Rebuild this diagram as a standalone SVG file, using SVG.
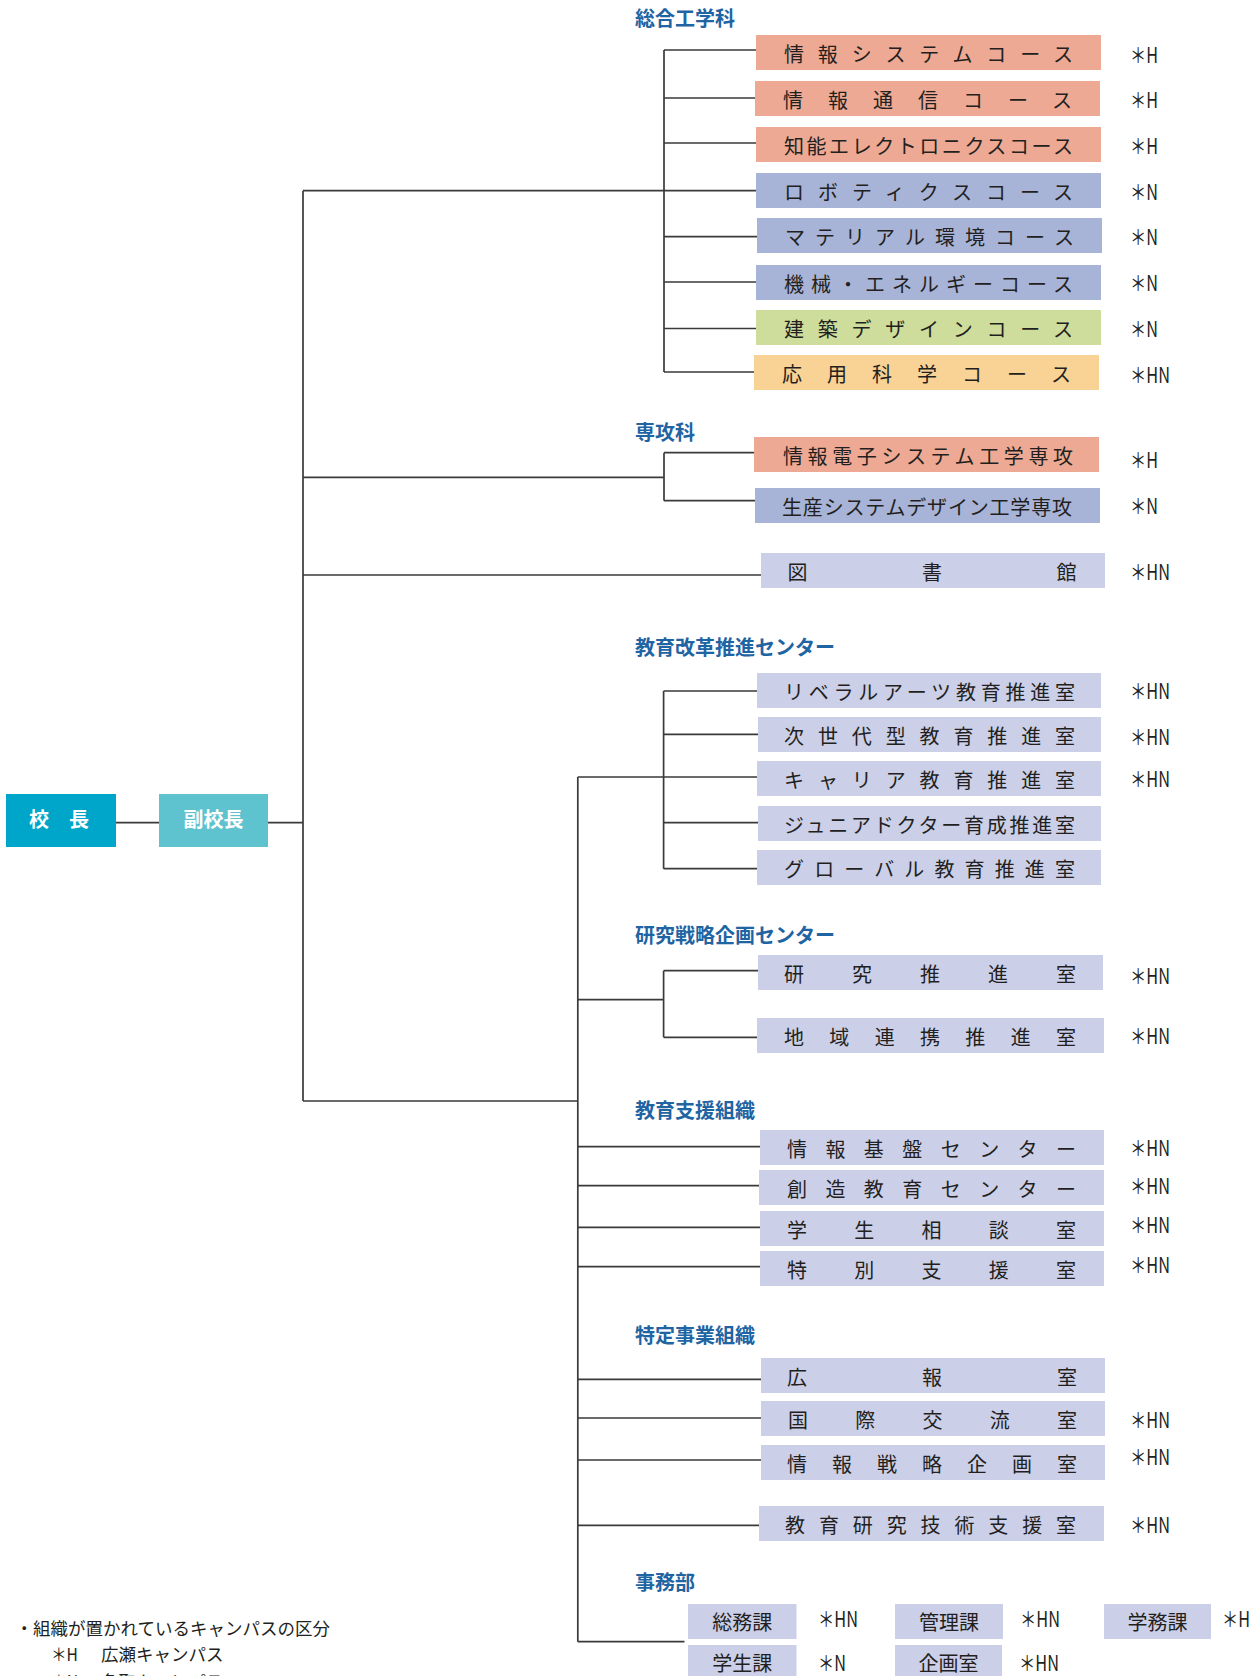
<svg xmlns="http://www.w3.org/2000/svg" width="1257" height="1676" viewBox="0 0 1257 1676">
<style>
.bg{fill:#ffffff}
.sal{fill:#EDA993}.blu{fill:#A8B4D7}.grn{fill:#CEDD9B}.pch{fill:#F9D295}.lav{fill:#CBCFE8}
.t{font-family:"Noto Sans CJK JP","Noto Sans",sans-serif;font-size:20px;fill:#231f20}
.tc{font-family:"Noto Sans CJK JP","Noto Sans",sans-serif;font-size:20px;fill:#231f20;text-anchor:middle}
.lab{font-family:"Noto Sans CJK JP","Noto Sans",sans-serif;font-size:21px;fill:#231f20}
.ttl{font-family:"Noto Sans CJK JP","Noto Sans",sans-serif;font-size:20px;font-weight:700;fill:#1F64A3}
.wh{font-family:"Noto Sans CJK JP","Noto Sans",sans-serif;font-size:20px;font-weight:700;fill:#ffffff;text-anchor:middle}
.leg{font-family:"Noto Sans CJK JP","Noto Sans",sans-serif;font-size:17.5px;fill:#231f20}
.conn path{fill:none;stroke:#3a3a3a;stroke-width:1.7}
</style>
<rect class="bg" x="0" y="0" width="1257" height="1676"/>

<g id="connectors" class="conn">
<path d="M116 822.7H159M268 822.7H303"/>
<path d="M303 190.7V1101M303 190.7H756M303 477.3H664M303 575H761M303 1101H577.8"/>
<path d="M664 50V372M664 50H756M664 98H755M664 143H756M664 236.7H757M664 282H756M664 328.5H756M664 372H754"/>
<path d="M664 452.7V500.7M664 452.7H754M664 500.7H755"/>
<path d="M577.8 777V1641.7M577.8 777H757"/>
<path d="M663.6 691V868.7M663.6 691H757M663.6 734.3H758M663.6 822.7H758M663.6 868.7H757"/>
<path d="M577.8 999.7H663.6M663.6 970.7V1037.3M663.6 970.7H758M663.6 1037.3H757"/>
<path d="M577.8 1146.7H760M577.8 1185.7H759M577.8 1227.3H760M577.8 1266.7H760"/>
<path d="M577.8 1379.3H761M577.8 1418H761M577.8 1460H761M577.8 1525.3H759"/>
<path d="M577.8 1641.7H684.5"/>
</g>

<g id="kocho"><rect x="6" y="794" width="110" height="53" fill="#00A6C9"/><text class="wh" x="59" y="827">校　長</text></g>
<g id="fukukocho"><rect x="159" y="794" width="109" height="53" fill="#5FC2CF"/><text class="wh" x="213.5" y="827">副校長</text></g>

<g id="title-sogo"><text class="ttl" x="635" y="26">総合工学科</text></g>
<g id="n-c1"><rect class="sal" x="756" y="35" width="345" height="35"/><text class="t" x="784" y="61.5" textLength="289" lengthAdjust="spacing">情報システムコース</text><text class="lab" x="1130" y="62.5" textLength="28" lengthAdjust="spacingAndGlyphs">＊H</text></g>
<g id="n-c2"><rect class="sal" x="755" y="81" width="345" height="35"/><text class="t" x="783" y="107.5" textLength="289" lengthAdjust="spacing">情報通信コース</text><text class="lab" x="1130" y="108" textLength="28" lengthAdjust="spacingAndGlyphs">＊H</text></g>
<g id="n-c3"><rect class="sal" x="756" y="127" width="345" height="35"/><text class="t" x="784" y="153.5" textLength="289" lengthAdjust="spacing">知能エレクトロニクスコース</text><text class="lab" x="1130" y="154" textLength="28" lengthAdjust="spacingAndGlyphs">＊H</text></g>
<g id="n-c4"><rect class="blu" x="756" y="173" width="345" height="35"/><text class="t" x="784" y="199.5" textLength="289" lengthAdjust="spacing">ロボティクスコース</text><text class="lab" x="1130" y="200" textLength="28" lengthAdjust="spacingAndGlyphs">＊N</text></g>
<g id="n-c5"><rect class="blu" x="757" y="218" width="345" height="35"/><text class="t" x="785" y="244.5" textLength="289" lengthAdjust="spacing">マテリアル環境コース</text><text class="lab" x="1130" y="245" textLength="28" lengthAdjust="spacingAndGlyphs">＊N</text></g>
<g id="n-c6"><rect class="blu" x="756" y="265" width="345" height="35"/><text class="t" x="784" y="291.5" textLength="289" lengthAdjust="spacing">機械・エネルギーコース</text><text class="lab" x="1130" y="291" textLength="28" lengthAdjust="spacingAndGlyphs">＊N</text></g>
<g id="n-c7"><rect class="grn" x="756" y="310" width="345" height="35"/><text class="t" x="784" y="336.5" textLength="289" lengthAdjust="spacing">建築デザインコース</text><text class="lab" x="1130" y="337" textLength="28" lengthAdjust="spacingAndGlyphs">＊N</text></g>
<g id="n-c8"><rect class="pch" x="754" y="355" width="345" height="35"/><text class="t" x="782" y="381.5" textLength="289" lengthAdjust="spacing">応用科学コース</text><text class="lab" x="1130" y="383" textLength="40" lengthAdjust="spacingAndGlyphs">＊HN</text></g>

<g id="title-senko"><text class="ttl" x="635" y="439.5">専攻科</text></g>
<g id="n-s1"><rect class="sal" x="754" y="437" width="345" height="35"/><text class="t" x="783" y="463.5" textLength="290" lengthAdjust="spacing">情報電子システム工学専攻</text><text class="lab" x="1130" y="467.5" textLength="28" lengthAdjust="spacingAndGlyphs">＊H</text></g>
<g id="n-s2"><rect class="blu" x="755" y="488" width="345" height="35"/><text class="t" x="782" y="514.5" textLength="290" lengthAdjust="spacing">生産システムデザイン工学専攻</text><text class="lab" x="1130" y="513.5" textLength="28" lengthAdjust="spacingAndGlyphs">＊N</text></g>

<g id="n-lib"><rect class="lav" x="761" y="553" width="344" height="35"/><text class="t" x="787.5" y="579.5" textLength="289" lengthAdjust="spacing">図書館</text><text class="lab" x="1130" y="580" textLength="40" lengthAdjust="spacingAndGlyphs">＊HN</text></g>

<g id="title-kaikaku"><text class="ttl" x="635" y="655">教育改革推進センター</text></g>
<g id="n-k1"><rect class="lav" x="757" y="673" width="344" height="35"/><text class="t" x="784" y="699.5" textLength="291" lengthAdjust="spacing">リベラルアーツ教育推進室</text><text class="lab" x="1130" y="699" textLength="40" lengthAdjust="spacingAndGlyphs">＊HN</text></g>
<g id="n-k2"><rect class="lav" x="758" y="717" width="343" height="35"/><text class="t" x="784" y="743.5" textLength="291" lengthAdjust="spacing">次世代型教育推進室</text><text class="lab" x="1130" y="744.5" textLength="40" lengthAdjust="spacingAndGlyphs">＊HN</text></g>
<g id="n-k3"><rect class="lav" x="757" y="761" width="344" height="35"/><text class="t" x="784" y="787.5" textLength="291" lengthAdjust="spacing">キャリア教育推進室</text><text class="lab" x="1130" y="786.5" textLength="40" lengthAdjust="spacingAndGlyphs">＊HN</text></g>
<g id="n-k4"><rect class="lav" x="758" y="806" width="343" height="35"/><text class="t" x="784" y="832.5" textLength="291" lengthAdjust="spacing">ジュニアドクター育成推進室</text></g>
<g id="n-k5"><rect class="lav" x="757" y="850" width="344" height="35"/><text class="t" x="784" y="876.5" textLength="291" lengthAdjust="spacing">グローバル教育推進室</text></g>

<g id="title-kenkyu"><text class="ttl" x="635" y="942.5">研究戦略企画センター</text></g>
<g id="n-r1"><rect class="lav" x="758" y="955" width="345" height="35"/><text class="t" x="784" y="981.5" textLength="292" lengthAdjust="spacing">研究推進室</text><text class="lab" x="1130" y="984" textLength="40" lengthAdjust="spacingAndGlyphs">＊HN</text></g>
<g id="n-r2"><rect class="lav" x="757" y="1018" width="347" height="35"/><text class="t" x="784" y="1044.5" textLength="292" lengthAdjust="spacing">地域連携推進室</text><text class="lab" x="1130" y="1044" textLength="40" lengthAdjust="spacingAndGlyphs">＊HN</text></g>

<g id="title-shien"><text class="ttl" x="635" y="1117.5">教育支援組織</text></g>
<g id="n-e1"><rect class="lav" x="760" y="1130" width="344" height="35"/><text class="t" x="787" y="1156.5" textLength="289" lengthAdjust="spacing">情報基盤センター</text><text class="lab" x="1130" y="1155.5" textLength="40" lengthAdjust="spacingAndGlyphs">＊HN</text></g>
<g id="n-e2"><rect class="lav" x="759" y="1170" width="345" height="35"/><text class="t" x="787" y="1196.5" textLength="289" lengthAdjust="spacing">創造教育センター</text><text class="lab" x="1130" y="1194" textLength="40" lengthAdjust="spacingAndGlyphs">＊HN</text></g>
<g id="n-e3"><rect class="lav" x="760" y="1211" width="344" height="35"/><text class="t" x="787" y="1237.5" textLength="289" lengthAdjust="spacing">学生相談室</text><text class="lab" x="1130" y="1233" textLength="40" lengthAdjust="spacingAndGlyphs">＊HN</text></g>
<g id="n-e4"><rect class="lav" x="760" y="1251" width="344" height="35"/><text class="t" x="787" y="1277.5" textLength="289" lengthAdjust="spacing">特別支援室</text><text class="lab" x="1130" y="1273" textLength="40" lengthAdjust="spacingAndGlyphs">＊HN</text></g>

<g id="title-tokutei"><text class="ttl" x="635" y="1342.5">特定事業組織</text></g>
<g id="n-p1"><rect class="lav" x="761" y="1358" width="344" height="35"/><text class="t" x="787" y="1384.5" textLength="290" lengthAdjust="spacing">広報室</text></g>
<g id="n-p2"><rect class="lav" x="761" y="1401" width="344" height="35"/><text class="t" x="788" y="1427.5" textLength="289" lengthAdjust="spacing">国際交流室</text><text class="lab" x="1130" y="1427.5" textLength="40" lengthAdjust="spacingAndGlyphs">＊HN</text></g>
<g id="n-p3"><rect class="lav" x="761" y="1445" width="344" height="35"/><text class="t" x="787" y="1471.5" textLength="290" lengthAdjust="spacing">情報戦略企画室</text><text class="lab" x="1130" y="1464.5" textLength="40" lengthAdjust="spacingAndGlyphs">＊HN</text></g>
<g id="n-p4"><rect class="lav" x="759" y="1506" width="345" height="35"/><text class="t" x="785" y="1532.5" textLength="291" lengthAdjust="spacing">教育研究技術支援室</text><text class="lab" x="1130" y="1532.5" textLength="40" lengthAdjust="spacingAndGlyphs">＊HN</text></g>

<g id="title-jimu"><text class="ttl" x="635" y="1590">事務部</text></g>
<g id="n-j1"><rect class="lav" x="688" y="1604" width="108.5" height="35"/><text class="tc" x="742.3" y="1630">総務課</text><text class="lab" x="818" y="1626.5" textLength="40" lengthAdjust="spacingAndGlyphs">＊HN</text></g>
<g id="n-j2"><rect class="lav" x="895" y="1604" width="108" height="35"/><text class="tc" x="949" y="1630">管理課</text><text class="lab" x="1020" y="1626.5" textLength="40" lengthAdjust="spacingAndGlyphs">＊HN</text></g>
<g id="n-j3"><rect class="lav" x="1104" y="1604" width="107" height="35"/><text class="tc" x="1157.5" y="1630">学務課</text><text class="lab" x="1222" y="1626.5" textLength="28" lengthAdjust="spacingAndGlyphs">＊H</text></g>
<g id="n-j4"><rect class="lav" x="688" y="1645" width="108.5" height="35"/><text class="tc" x="742.3" y="1671">学生課</text><text class="lab" x="818" y="1670.5" textLength="28" lengthAdjust="spacingAndGlyphs">＊N</text></g>
<g id="n-j5"><rect class="lav" x="895" y="1645" width="107" height="35"/><text class="tc" x="948.5" y="1671">企画室</text><text class="lab" x="1019" y="1670.5" textLength="40" lengthAdjust="spacingAndGlyphs">＊HN</text></g>

<g id="legend">
<text class="leg" x="15.5" y="1634.5">・組織が置かれているキャンパスの区分</text>
<text class="leg" x="51" y="1660.5" textLength="27" lengthAdjust="spacingAndGlyphs">＊H</text>
<text class="leg" x="101" y="1660.5">広瀬キャンパス</text>
<text class="leg" x="51" y="1688" textLength="27" lengthAdjust="spacingAndGlyphs">＊N</text>
<text class="leg" x="101" y="1688">名取キャンパス</text>
</g>
</svg>
